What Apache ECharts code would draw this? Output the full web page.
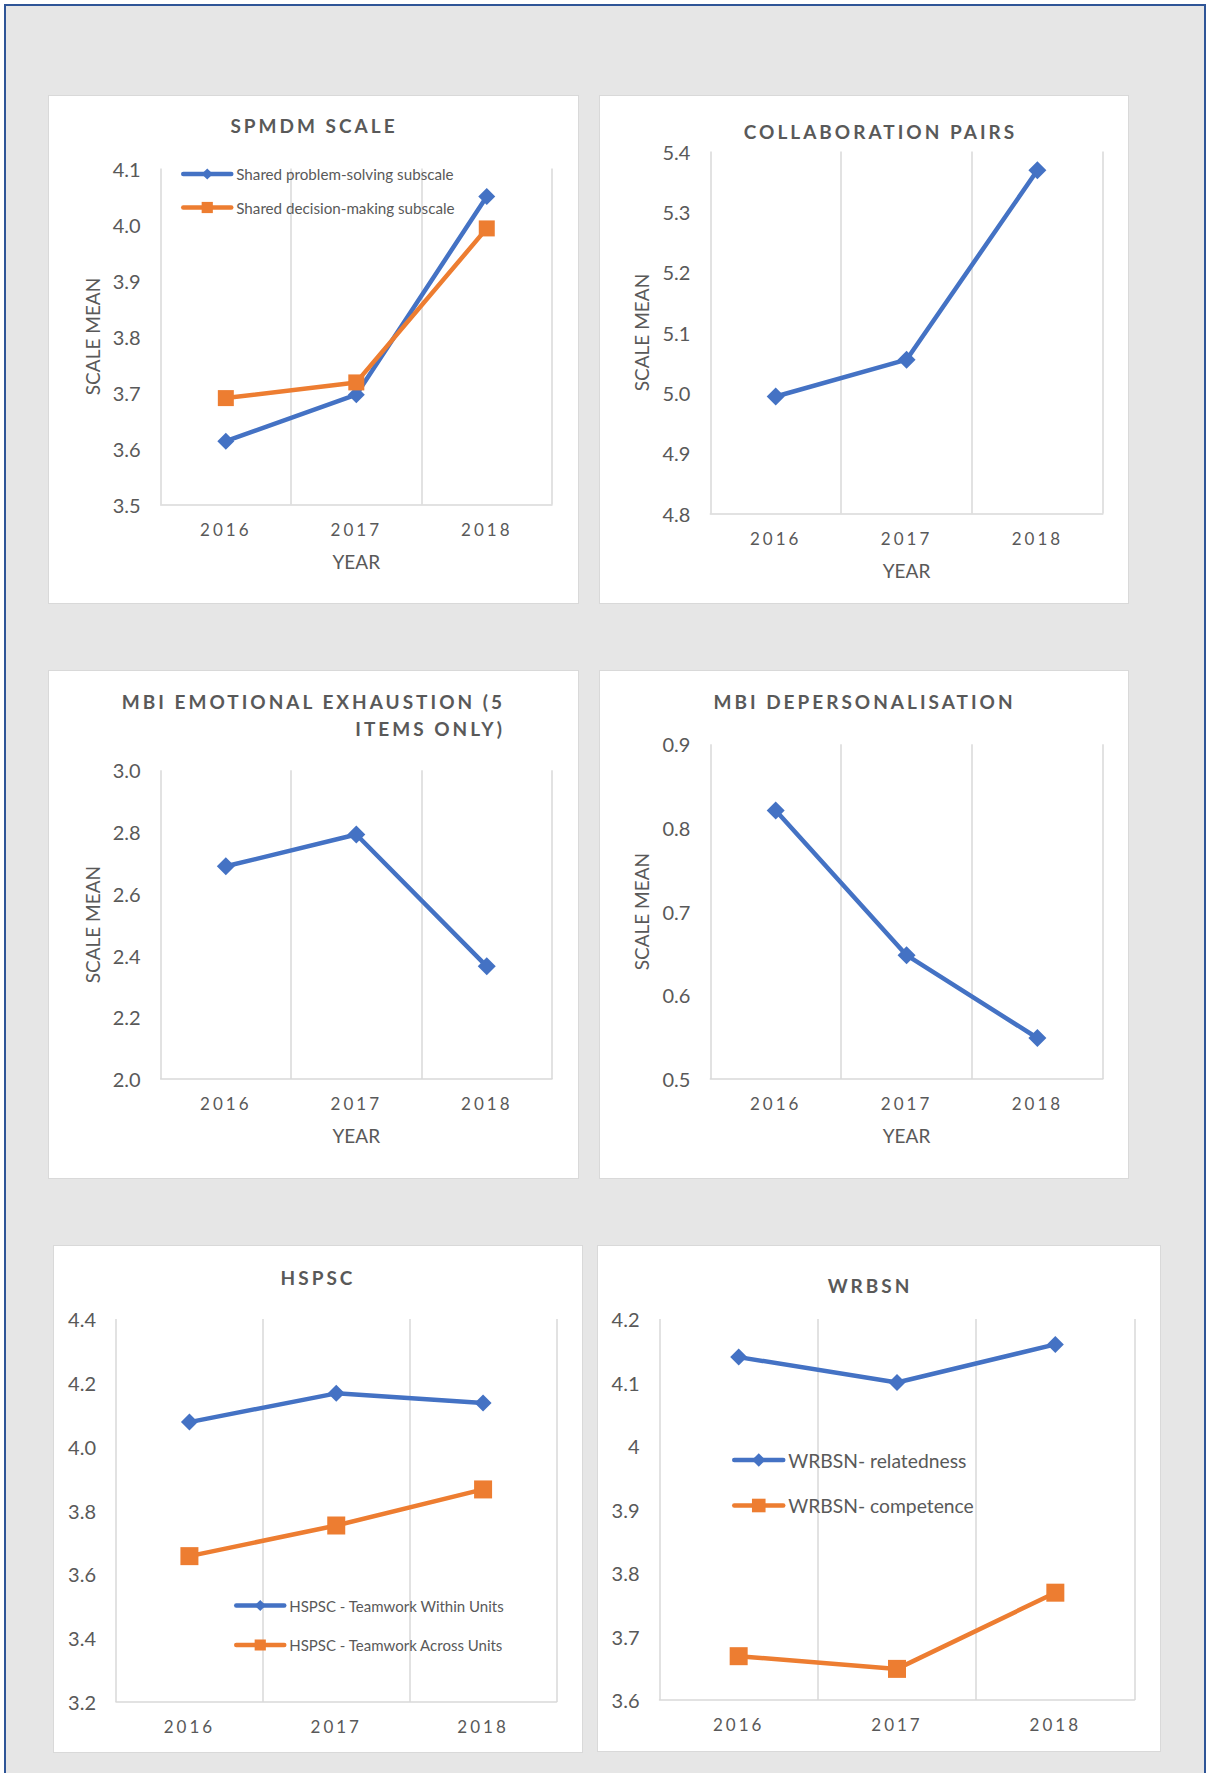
<!DOCTYPE html>
<html>
<head>
<meta charset="utf-8">
<script src="https://cdn.jsdelivr.net/npm/echarts@6/dist/echarts.min.js"></script>
<style>
html,body{margin:0;padding:0;background:#ffffff;overflow:hidden;width:1208px;height:1773px;}
#frame{position:absolute;left:4px;top:4px;width:1198px;height:1800px;border:2px solid #2f5597;background:#e6e6e6;}
.panel{position:absolute;background:#ffffff;border:1px solid #d9d9d9;box-sizing:border-box;}
#chart{position:absolute;left:0;top:0;width:1208px;height:1773px;}
#chart text[style*="zzT"]{letter-spacing:3px;}
#chart text[style*="zzX"]{letter-spacing:3px;}
</style>
</head>
<body>
<div id="frame"></div>
<div class="panel" style="left:48px;top:95px;width:531px;height:509px;"></div>
<div class="panel" style="left:599px;top:95px;width:530px;height:509px;"></div>
<div class="panel" style="left:48px;top:670px;width:531px;height:509px;"></div>
<div class="panel" style="left:599px;top:670px;width:530px;height:509px;"></div>
<div class="panel" style="left:53px;top:1245px;width:530px;height:508px;"></div>
<div class="panel" style="left:597px;top:1245px;width:564px;height:507px;"></div>
<div id="chart"></div>
<script>
// ---- data ----
const years = ['2016', '2017', '2018'];

const spmdmProblemSolving = [3.613, 3.696, 4.050];
const spmdmDecisionMaking = [3.690, 3.718, 3.993];
const collaborationPairs = [4.994, 5.055, 5.369];
const mbiExhaustion = [2.689, 2.792, 2.365];
const mbiDepersonalisation = [0.821, 0.648, 0.549];
const hspscWithinUnits = [4.077, 4.167, 4.137];
const hspscAcrossUnits = [3.657, 3.753, 3.866];
const wrbsnRelatedness = [4.140, 4.100, 4.160];
const wrbsnCompetence = [3.669, 3.649, 3.769];

const panelTitles = ['SPMDM SCALE', 'COLLABORATION PAIRS', 'MBI EMOTIONAL EXHAUSTION (5\nITEMS ONLY)', 'MBI DEPERSONALISATION', 'HSPSC', 'WRBSN'];
const seriesNames = ['Shared problem-solving subscale', 'Shared decision-making subscale', 'Collaboration pairs', 'MBI emotional exhaustion', 'MBI depersonalisation', 'HSPSC - Teamwork Within Units', 'HSPSC - Teamwork Across Units', 'WRBSN- relatedness', 'WRBSN- competence'];
const yRanges = [[3.5, 4.1, 0.1], [4.8, 5.4, 0.1], [2.0, 3.0, 0.2], [0.5, 0.9, 0.1], [3.2, 4.4, 0.2], [3.6, 4.2, 0.1]];

// ---- styles ----
const BLUE = '#4472c4', ORANGE = '#ed7d31', TXT = '#595959', GRID = '#d9d9d9';
const FONT = 'Lato';
const LW = 4.5;

const grids = [
  {left: 160.6, top: 168.5, width: 391.4, height: 336},
  {left: 710.3, top: 151.6, width: 392.5, height: 361.9},
  {left: 160.6, top: 770.3, width: 391.4, height: 308.7},
  {left: 710.3, top: 744.3, width: 392.5, height: 334.7},
  {left: 116, top: 1319, width: 440.5, height: 383},
  {left: 659.5, top: 1319, width: 475, height: 381}
];

const hasAxisNames = [true, true, true, true, false, false];

const xAxes = grids.map((g, i) => ({
  type: 'category', gridIndex: i, data: years, boundaryGap: true,
  axisLine: {show: true, lineStyle: {color: GRID, width: 1.5}},
  axisTick: {show: false},
  axisLabel: {margin: 16, color: TXT, fontSize: 17, fontFamily: FONT + ', zzX'},
  splitLine: {show: true, lineStyle: {color: GRID, width: 1.5}},
  name: hasAxisNames[i] ? 'YEAR' : '', nameLocation: 'middle', nameGap: 47,
  nameTextStyle: {color: TXT, fontSize: 19, fontFamily: FONT}
}));

const yAxes = grids.map((g, i) => ({
  type: 'value', gridIndex: i,
  min: yRanges[i][0], max: yRanges[i][1], interval: yRanges[i][2],
  axisLine: {show: false}, axisTick: {show: false}, splitLine: {show: false},
  axisLabel: {
    margin: 20, color: TXT, fontSize: 20, fontFamily: FONT,
    formatter: i === 5 ? (v => String(+v.toFixed(1))) : (v => v.toFixed(1))
  },
  name: hasAxisNames[i] ? 'SCALE MEAN' : '', nameLocation: 'middle', nameGap: 59, nameRotate: 90,
  nameTextStyle: {color: TXT, fontSize: 19, fontFamily: FONT}
}));

function line(name, data, idx, color, symbol, size) {
  return {
    type: 'line', name: name, data: data, xAxisIndex: idx, yAxisIndex: idx,
    symbol: symbol, symbolSize: size, showAllSymbol: true,
    lineStyle: {color: color, width: LW, cap: 'round', join: 'round'},
    itemStyle: {color: color},
    emphasis: {disabled: true}, silent: true
  };
}

const series = [
  line(seriesNames[0], spmdmProblemSolving, 0, BLUE, 'diamond', 17),
  line(seriesNames[1], spmdmDecisionMaking, 0, ORANGE, 'rect', 16),
  line(seriesNames[2], collaborationPairs, 1, BLUE, 'diamond', 18),
  line(seriesNames[3], mbiExhaustion, 2, BLUE, 'diamond', 18),
  line(seriesNames[4], mbiDepersonalisation, 3, BLUE, 'diamond', 18),
  line(seriesNames[5], hspscWithinUnits, 4, BLUE, 'diamond', 17),
  line(seriesNames[6], hspscAcrossUnits, 4, ORANGE, 'rect', 18),
  line(seriesNames[7], wrbsnRelatedness, 5, BLUE, 'diamond', 17),
  line(seriesNames[8], wrbsnCompetence, 5, ORANGE, 'rect', 18)
];

const titleStyle = {color: TXT, fontSize: 19, fontWeight: 'bold', fontFamily: FONT + ', zzT', lineHeight: 20};
const titles = [
  {text: panelTitles[0], left: 314, top: 115.7, textAlign: 'center'},
  {text: panelTitles[1], left: 880.5, top: 121, textAlign: 'center'},
  {text: panelTitles[2], left: 505, top: 687.8, textAlign: 'right', lh: 27},
  {text: panelTitles[3], left: 864.5, top: 691.3, textAlign: 'center'},
  {text: panelTitles[4], left: 318, top: 1267, textAlign: 'center'},
  {text: panelTitles[5], left: 870, top: 1275, textAlign: 'center'}
].map(t => ({
  text: t.text, left: t.left, top: t.top, textAlign: t.textAlign, padding: 0,
  textStyle: Object.assign({}, titleStyle, t.lh ? {lineHeight: t.lh} : {})
}));

const legendText = {color: TXT, fontFamily: FONT};
const legends = [
  {data: [seriesNames[0], seriesNames[1]], left: 181, top: 166.5, itemWidth: 48, itemHeight: 14, itemGap: 18.5, textStyle: Object.assign({fontSize: 15.2}, legendText)},
  {data: [seriesNames[5], seriesNames[6]], left: 234, top: 1598, itemWidth: 48, itemHeight: 14, itemGap: 24.5, textStyle: Object.assign({fontSize: 15}, legendText)},
  {data: [seriesNames[7], seriesNames[8]], left: 732, top: 1450.5, itemWidth: 49, itemHeight: 17, itemGap: 26.5, textStyle: Object.assign({fontSize: 19.3}, legendText)}
].map(l => Object.assign({orient: 'vertical', padding: 0, selectedMode: false, itemStyle: {borderWidth: 0}, lineStyle: {width: LW}}, l));

const chart = echarts.init(document.getElementById('chart'), null, {renderer: 'svg', width: 1208, height: 1773});
chart.setOption({
  animation: false,
  backgroundColor: 'transparent',
  title: titles,
  legend: legends,
  grid: grids.map(g => Object.assign({containLabel: false}, g)),
  xAxis: xAxes,
  yAxis: yAxes,
  series: series
});
</script>
</body>
</html>
